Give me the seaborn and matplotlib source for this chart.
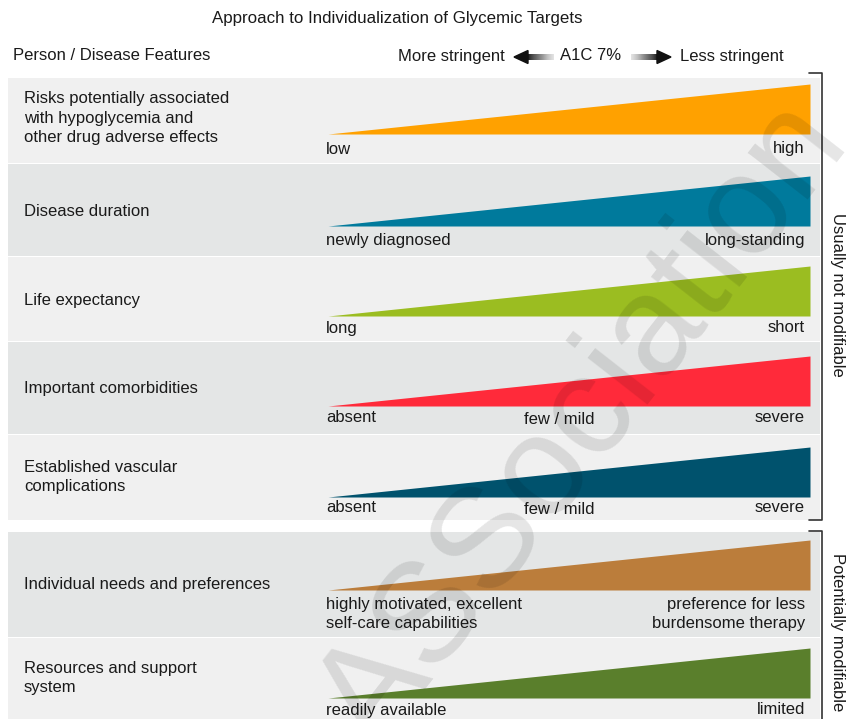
import numpy as np
import matplotlib
matplotlib.use("Agg")
import matplotlib.pyplot as plt
import seaborn as sns

# -------------------- DATA --------------------
features = [
    "Risks potentially associated\nwith hypoglycemia and\nother drug adverse effects",
    "Disease duration",
    "Life expectancy",
    "Important comorbidities",
    "Established vascular\ncomplications",
    "Individual needs and preferences",
    "Resources and support\nsystem",
]
left_labels = ["low", "newly diagnosed", "long", "absent", "absent",
               "highly motivated, excellent\nself-care capabilities", "readily available"]
mid_labels = ["", "", "", "few / mild", "few / mild", "", ""]
right_labels = ["high", "long-standing", "short", "severe", "severe",
                "preference for less\nburdensome therapy", "limited"]
wedge_colors = ["#FFA100", "#007A9C", "#9BBD21", "#FF2A3A", "#00526D", "#BB7D3B", "#5A7F2C"]
groups = ["Usually not modifiable", "Potentially modifiable"]
# stringency ramp: A1C target goes from more to less stringent along each wedge
ramp = [0.0, 1.0]

# -------------------- LAYOUT (pixels) --------------------
W, H = 846, 719
row_top = [78, 164, 257, 342, 435, 532, 638]
row_bot = [163, 256, 341, 434, 520, 637, 725]
wedge_base = [134, 226, 316, 406, 497, 590, 698]
label_y = [149, 240, 328, 418, 508, 614, 710]
feat_y = [118, 211, 301, 388, 477, 584, 678]
bg = ["#F0F0F0", "#E4E6E6"]
wx0, wx1, wh = 328, 810, 50

sns.set_theme(style="white")
plt.rcParams["font.family"] = ["Liberation Sans", "DejaVu Sans"]

fig = plt.figure(figsize=(W / 100, H / 100), dpi=100)
ax = fig.add_axes([0, 0, 1, 1])
ax.set_xlim(0, W)
ax.set_ylim(H, 0)
ax.axis("off")

fs = 12
ls = 1.39
txt = "#1a1a1a"

for i in range(len(features)):
    shade = bg[0] if i in (0, 2, 4, 6) else bg[1]
    ax.fill_between([8, 820], row_top[i], row_bot[i], color=shade, lw=0, zorder=0)
    x = np.interp(ramp, [0, 1], [wx0, wx1])
    top = wedge_base[i] - np.array(ramp) * wh
    ax.fill_between(x, wedge_base[i], top, color=wedge_colors[i], lw=0, zorder=1)
    ax.text(24, feat_y[i], features[i], fontsize=fs, color=txt, va="center", ha="left",
            linespacing=ls)
    ax.text(326, label_y[i], left_labels[i], fontsize=fs, color=txt, va="center", ha="left",
            linespacing=ls)
    ax.text(805, label_y[i], right_labels[i], fontsize=fs, color=txt, va="center", ha="right",
            linespacing=ls)
    if mid_labels[i]:
        ax.text(559, label_y[i] + 2, mid_labels[i], fontsize=fs, color=txt, va="center", ha="center")

# brackets + group labels
brackets = [(73, 520), (531, 740)]
group_y = [295, 632]
for (y0, y1), g, gy in zip(brackets, groups, group_y):
    ax.plot([809, 822, 822, 809], [y0, y0, y1, y1], color="#333333", lw=1.2, zorder=3)
    ax.text(838, gy, g, fontsize=fs, color=txt, rotation=270, va="center", ha="center")

# header
ax.text(397, 19, "Approach to Individualization of Glycemic Targets", fontsize=12.2,
        color=txt, ha="center", va="center")
ax.text(13, 56, "Person / Disease Features", fontsize=fs, color=txt, ha="left", va="center")
ax.text(505, 56, "More stringent", fontsize=fs, color=txt, ha="right", va="center")
ax.text(560, 56, "A1C 7%", fontsize=fs, color=txt, ha="left", va="center")
ax.text(680, 56, "Less stringent", fontsize=fs, color=txt, ha="left", va="center")

# gradient arrows
grad = np.linspace(0, 1, 64).reshape(1, -1)
ax.imshow(grad, cmap="Greys_r", vmin=-0.05, vmax=1.25, extent=(525, 554, 60, 54),
          aspect="auto", zorder=2)
ax.fill([514, 528, 528], [57, 50.5, 63.5], color="#111111", zorder=3)
ax.imshow(grad[:, ::-1], cmap="Greys_r", vmin=-0.05, vmax=1.25, extent=(631, 660, 60, 54),
          aspect="auto", zorder=2)
ax.fill([671, 657, 657], [57, 50.5, 63.5], color="#111111", zorder=3)

# watermark
wm = dict(fontsize=102, color="black", alpha=0.1, rotation=52,
          rotation_mode="anchor", va="baseline", zorder=4)
ax.text(376, 752, "ASSociation", ha="left", **wm)
ax.text(376, 752, "Diabetes ", ha="right", **wm)

fig.savefig("out.png", dpi=100, facecolor="white")
